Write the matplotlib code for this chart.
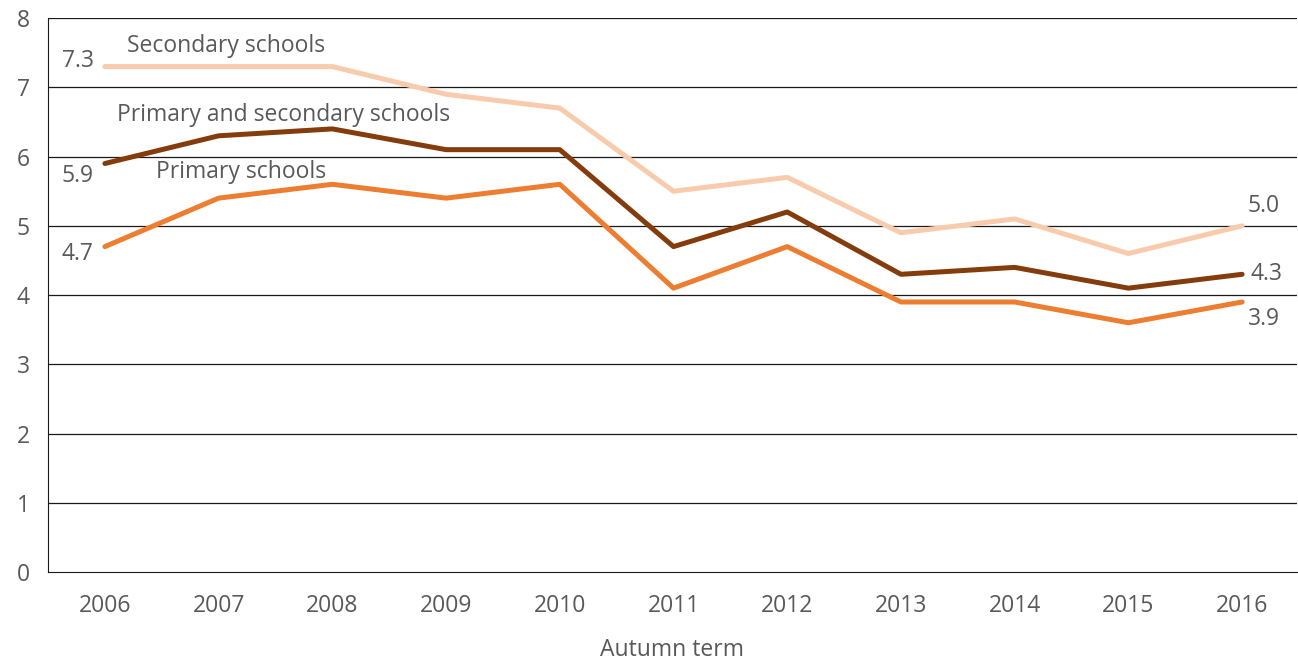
import matplotlib.pyplot as plt

years = [2006, 2007, 2008, 2009, 2010, 2011, 2012, 2013, 2014, 2015, 2016]
secondary = [7.3, 7.3, 7.3, 6.9, 6.7, 5.5, 5.7, 4.9, 5.1, 4.6, 5.0]
both = [5.9, 6.3, 6.4, 6.1, 6.1, 4.7, 5.2, 4.3, 4.4, 4.1, 4.3]
primary = [4.7, 5.4, 5.6, 5.4, 5.6, 4.1, 4.7, 3.9, 3.9, 3.6, 3.9]

c_sec = '#F8CBAD'
c_both = '#843C0C'
c_pri = '#ED7D31'
grey = '#595959'
fs = 16.5

plt.rcParams['font.family'] = ['Open Sans', 'DejaVu Sans']

fig = plt.figure(figsize=(12.98, 6.61), dpi=100)
ax = fig.add_axes([0.037, 0.1346, 0.962, 0.838])

for yv in range(1, 9):
    ax.axhline(yv, color='#1a1a1a', lw=0.9, zorder=1)

ax.plot(years, secondary, color=c_sec, lw=3.6, zorder=3, solid_capstyle='round')
ax.plot(years, both, color=c_both, lw=3.6, zorder=3, solid_capstyle='round')
ax.plot(years, primary, color=c_pri, lw=3.6, zorder=3, solid_capstyle='round')

ax.set_xlim(2005.5, 2016.48)
ax.set_ylim(0, 8)
ax.set_xticks(years)
ax.set_yticks(range(0, 9))
ax.tick_params(axis='both', length=0, labelsize=fs, labelcolor=grey)
ax.tick_params(axis='x', pad=16)
ax.tick_params(axis='y', pad=13)
for s in ['top', 'right']:
    ax.spines[s].set_visible(False)
ax.spines['left'].set_color('#1a1a1a')
ax.spines['bottom'].set_color('#1a1a1a')
ax.set_xlabel('Autumn term', fontsize=fs, color=grey, labelpad=14)

# series names
ax.annotate('Secondary schools', (years[1], secondary[1]), xytext=(-66, 15),
            textcoords='offset points', ha='left', va='center', fontsize=fs, color=grey)
ax.annotate('Primary and secondary schools', (years[1], both[1]), xytext=(-73, 15),
            textcoords='offset points', ha='left', va='center', fontsize=fs, color=grey)
ax.annotate('Primary schools', (years[1], primary[1]), xytext=(-45, 19),
            textcoords='offset points', ha='left', va='center', fontsize=fs, color=grey)

# value labels
ax.annotate(f'{secondary[0]:.1f}', (years[0], secondary[0]), xytext=(-8, 4),
            textcoords='offset points', ha='right', va='center', fontsize=fs, color=grey)
ax.annotate(f'{both[0]:.1f}', (years[0], both[0]), xytext=(-8, -9),
            textcoords='offset points', ha='right', va='center', fontsize=fs, color=grey)
ax.annotate(f'{primary[0]:.1f}', (years[0], primary[0]), xytext=(-8, -5),
            textcoords='offset points', ha='right', va='center', fontsize=fs, color=grey)
ax.annotate(f'{secondary[-1]:.1f}', (years[-1], secondary[-1]), xytext=(4, 14),
            textcoords='offset points', ha='left', va='center', fontsize=fs, color=grey)
ax.annotate(f'{both[-1]:.1f}', (years[-1], both[-1]), xytext=(6, 0),
            textcoords='offset points', ha='left', va='center', fontsize=fs, color=grey)
ax.annotate(f'{primary[-1]:.1f}', (years[-1], primary[-1]), xytext=(4, -12),
            textcoords='offset points', ha='left', va='center', fontsize=fs, color=grey)

fig.savefig('out.png', dpi=100)
